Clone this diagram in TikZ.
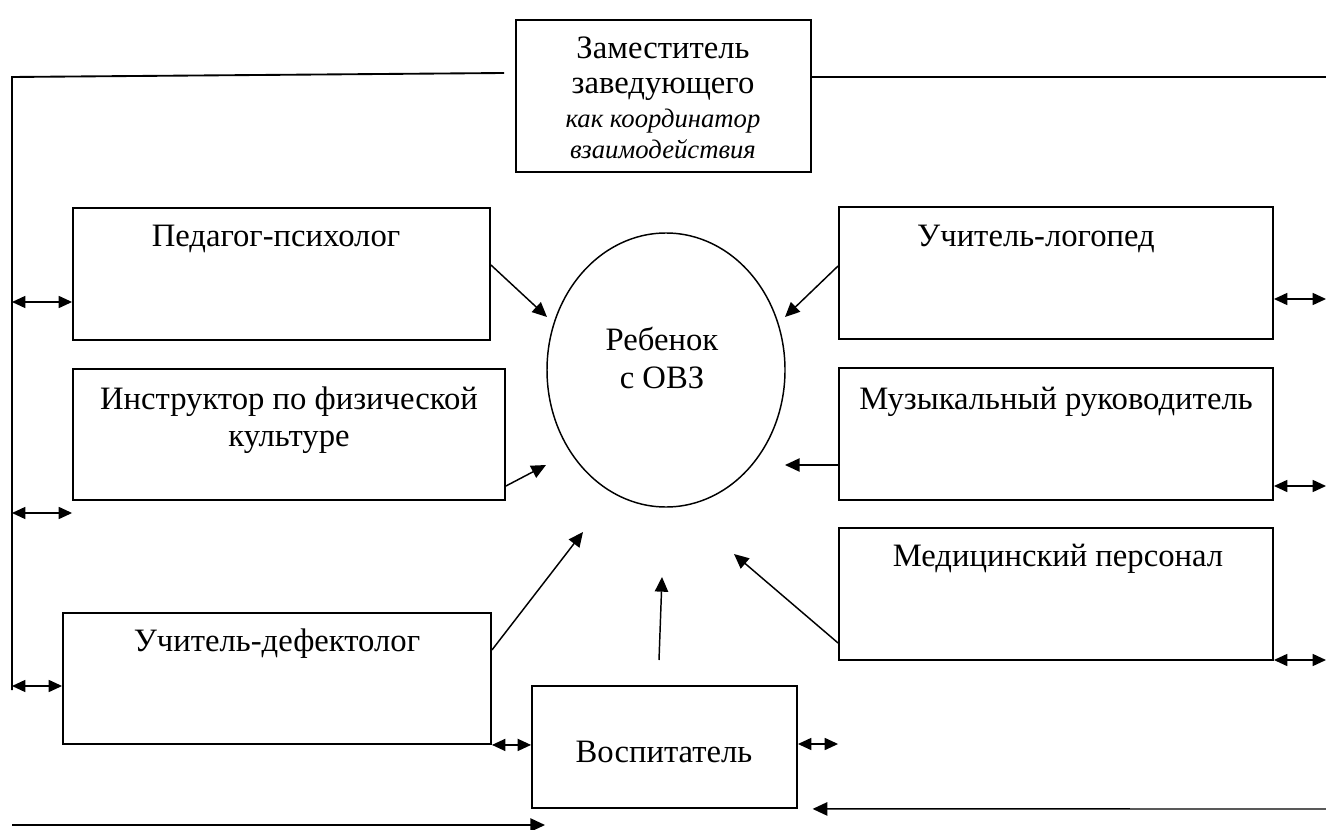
\documentclass[tikz,border=0pt]{standalone}
\usepackage{fontspec}
\setmainfont{Liberation Serif}
\usetikzlibrary{arrows.meta}
\usetikzlibrary{shapes.geometric}

\tikzset{
  box/.style={draw, rectangle, line width=1.4pt, inner sep=0pt},
  txt/.style={font=\fontsize{24.5}{28}\selectfont, align=center, inner sep=0pt},
  arr/.style={-{Triangle[length=11pt,width=10pt]}, line width=1.1pt},
  dbl/.style={{Triangle[length=10pt,width=9pt]}-{Triangle[length=10pt,width=9pt]}, line width=1.1pt},
  rail/.style={line width=1.4pt}
}

\begin{document}
\begin{tikzpicture}[x=0.75pt,y=-0.75pt]
\useasboundingbox (0,0) rectangle (1326,830);

\node[box, minimum width=221.25pt, minimum height=114pt] (zam) at (663.5,96) {};
\node[box, minimum width=312.75pt, minimum height=99pt] (psy) at (281.5,274) {};
\node[box, minimum width=324pt, minimum height=98.25pt] (fiz) at (289,434.5) {};
\node[box, minimum width=321pt, minimum height=98.25pt] (def) at (277,678.5) {};
\node[box, minimum width=198.75pt, minimum height=91.5pt] (voc) at (664.5,747) {};
\node[box, minimum width=325.5pt, minimum height=99pt] (log) at (1056,273) {};
\node[box, minimum width=325.5pt, minimum height=99pt] (mus) at (1056,434) {};
\node[box, minimum width=325.5pt, minimum height=99pt] (med) at (1056,594) {};
\node[draw, ellipse, line width=1.1pt, minimum width=178.5pt, minimum height=205.5pt] (child) at (666,370) {};

\node[txt] (zamtxt) at (663,98) {Заместитель\\[-2pt]заведующего\\[-2pt]{\fontsize{20}{23}\selectfont\itshape как координатор}\\[-5pt]{\fontsize{20}{23}\selectfont\itshape взаимодействия}};
\node[txt] (psytxt) at (276,239) {Педагог-психолог};
\node[txt] (fiztxt) at (289,420) {Инструктор по физической\\культуре};
\node[txt] (deftxt) at (277,644) {Учитель-дефектолог};
\node[txt] (voctxt) at (664,752) {Воспитатель};
\node[txt] (logtxt) at (1036,239) {Учитель-логопед};
\node[txt] (mustxt) at (1056,402) {Музыкальный руководитель};
\node[txt] (medtxt) at (1058,559) {Медицинский персонал};
\node[txt] (childtxt) at (662,358) {Ребенок\\с ОВЗ};

\coordinate (railTop) at (12,77);
\coordinate (railEnd) at (12,690);
\coordinate (rightTop) at (1326,77);
\coordinate (inPsy) at (547,317);
\coordinate (inFiz) at (546,465);
\coordinate (inDef) at (583,532);
\coordinate (inVoc) at (662,577);
\coordinate (vocUp) at (659,660);
\coordinate (inMed) at (734,554);
\coordinate (inMus) at (785,465);
\coordinate (inLog) at (785,317);
\coordinate (botLeft) at (12,825);
\coordinate (botMid) at (545,825);
\coordinate (botRight) at (1326,809);

\draw[rail] ([xshift=-8.25pt]zam.west |- 0,73) -- (railTop) -- (railEnd);
\draw[rail] (zam.east |- rightTop) -- (rightTop);

\draw[arr] (psy.east |- 0,265) -- (inPsy);
\draw[arr] (fiz.east |- 0,486) -- (inFiz);
\draw[arr] (def.east |- 0,650) -- (inDef);
\draw[arr] (vocUp) -- (inVoc);
\draw[arr] (med.west |- 0,643) -- (inMed);
\draw[arr] (mus.west |- 0,465) -- (inMus);
\draw[arr] (log.west |- 0,266) -- (inLog);

\foreach \n/\y in {psy/302,fiz/513,def/686} {
\draw[dbl] (railTop |- 0,\y) -- (\n.west |- 0,\y);
}
\foreach \n/\y in {log/299,mus/486,med/660} {
\draw[dbl] (\n.east |- 0,\y) -- (rightTop |- 0,\y);
}
\draw[dbl] (def.south east) -- (voc.west |- def.south east);
\draw[dbl] (voc.east |- 0,744) -- (med.west |- 0,744);

\draw[arr] (botLeft) -- (botMid);
\draw[arr] (botRight) -- ([xshift=11pt]voc.south east);

\end{tikzpicture}
\end{document}
